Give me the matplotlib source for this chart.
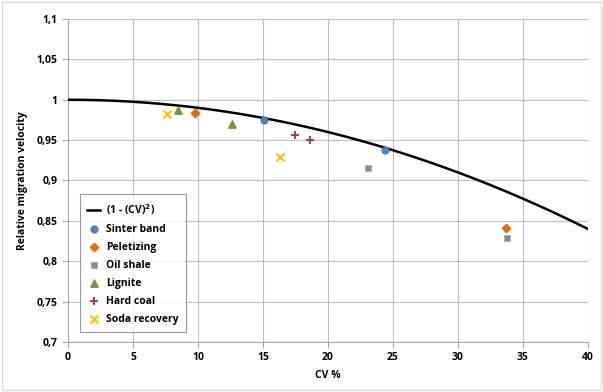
import numpy as np
import matplotlib.pyplot as plt
from matplotlib.patches import Rectangle

# Datos
sinter_x = [15.1, 24.4]
sinter_y = [0.975, 0.938]
pellet_x = [9.8, 33.7]
pellet_y = [0.983, 0.841]
oil_x = [23.1, 33.8]
oil_y = [0.915, 0.829]
lignite_x = [8.5, 12.6]
lignite_y = [0.987, 0.970]
coal_x = [17.5, 18.6]
coal_y = [0.956, 0.950]
soda_x = [7.6, 16.3]
soda_y = [0.982, 0.929]

xticks = [0, 5, 10, 15, 20, 25, 30, 35, 40]
yticks = [0.7, 0.75, 0.8, 0.85, 0.9, 0.95, 1.0, 1.05, 1.1]
ylabels = ["0,7", "0,75", "0,8", "0,85", "0,9", "0,95", "1", "1,05", "1,1"]

plt.rcParams['font.family'] = 'Open Sans'
plt.rcParams['font.weight'] = 'bold'

fig = plt.figure(figsize=(6.03, 3.92), dpi=100)
fig.patches.append(Rectangle((0.004, 0.004), 0.992, 0.992, transform=fig.transFigure,
                             fill=False, edgecolor='#d9d9d9', linewidth=1))
ax = fig.add_axes([0.1128, 0.1276, 0.8622, 0.8239])

cv = np.linspace(0, 40, 200)
ax.plot(cv, 1 - (cv / 100) ** 2, color='black', lw=1.8, label='(1 - (CV)$^2$)', zorder=3)

ax.scatter(sinter_x, sinter_y, marker='o', s=28, color='#4f81bd', edgecolors='#3a6fb0',
           linewidths=0.5, label='Sinter band', zorder=4)
ax.scatter(pellet_x, pellet_y, marker='D', s=18, color='#e46c0a', label='Peletizing', zorder=4)
ax.scatter(oil_x, oil_y, marker='s', s=18, color='#8c8c8c', edgecolors='#a6a6a6',
           linewidths=0.5, label='Oil shale', zorder=4)
ax.scatter(lignite_x, lignite_y, marker='^', s=28, color='#76923c', label='Lignite', zorder=4)
ax.scatter(coal_x, coal_y, marker='+', s=34, color='#953735', linewidths=1.3,
           label='Hard coal', zorder=4)
ax.scatter(soda_x, soda_y, marker='x', s=34, color='#ffc000', linewidths=1.5,
           label='Soda recovery', zorder=4)

ax.set_xlim(0, 40)
ax.set_ylim(0.7, 1.1)
ax.set_xticks(xticks)
ax.set_yticks(yticks)
ax.set_yticklabels(ylabels)
ax.tick_params(labelsize=7.5, length=4, color='#a6a6a6', width=0.8)
ax.tick_params(axis='x', pad=3)
ax.grid(True, color='#bfbfbf', lw=0.8)
ax.set_axisbelow(True)
for s in ['top', 'right']:
    ax.spines[s].set_visible(False)
for s in ['left', 'bottom']:
    ax.spines[s].set_color('#a6a6a6')
    ax.spines[s].set_linewidth(0.8)

ax.set_xlabel('CV %', fontsize=7.5, fontweight='bold', labelpad=5)
ax.set_ylabel('Relative migration velocity', fontsize=7.5, fontweight='bold', labelpad=6)

leg = ax.legend(loc='lower left', bbox_to_anchor=(0.023, 0.03), fontsize=7.5, frameon=True,
                fancybox=False, edgecolor='#7f7f7f', borderpad=0.7, labelspacing=0.68,
                handlelength=1.2, handletextpad=0.6, borderaxespad=0)
leg.get_frame().set_linewidth(0.8)

fig.savefig('out.png', dpi=100)
